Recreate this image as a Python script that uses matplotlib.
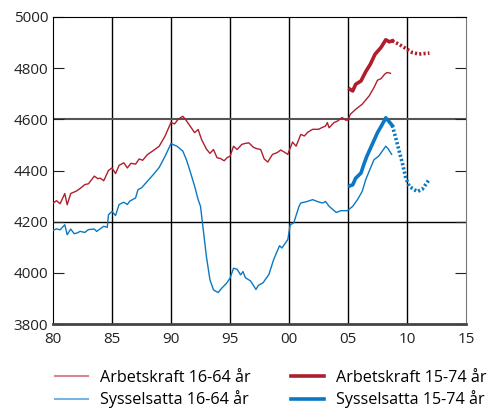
import matplotlib
matplotlib.use("Agg")
import matplotlib.pyplot as plt
from matplotlib.lines import Line2D

plt.rcParams['font.family'] = ['Open Sans', 'DejaVu Sans']

# Arbetskraft 16-64 år
ak_x = [1980.0, 1980.3, 1980.6, 1981.0, 1981.2, 1981.5, 1982.0, 1982.3, 1982.7, 1983.0,
        1983.5, 1983.8, 1984.0, 1984.3, 1984.7, 1985.0, 1985.3, 1985.6, 1986.0, 1986.3,
        1986.6, 1987.0, 1987.3, 1987.6, 1988.0, 1988.5, 1989.0, 1989.5, 1990.0, 1990.3,
        1990.6, 1991.0, 1991.3, 1991.6, 1992.0, 1992.3, 1992.6, 1993.0, 1993.3, 1993.6,
        1993.9, 1994.2, 1994.5, 1994.8, 1995.0, 1995.3, 1995.6, 1996.0, 1996.3, 1996.6,
        1997.0, 1997.3, 1997.6, 1997.9, 1998.2, 1998.6, 1999.0, 1999.3, 1999.6, 1999.9,
        2000.0, 2000.3, 2000.6, 2001.0, 2001.3, 2001.6, 2002.0, 2002.5, 2002.8, 2003.1,
        2003.25, 2003.4, 2003.8, 2004.1, 2004.5, 2004.8, 2005.0, 2005.2, 2005.65, 2006.2,
        2006.8, 2007.2, 2007.5, 2007.8, 2008.1, 2008.3, 2008.6]
ak_y = [4272, 4282, 4270, 4310, 4266, 4310, 4320, 4330, 4345, 4348,
        4378, 4368, 4370, 4360, 4400, 4410, 4388, 4420, 4430, 4410,
        4428, 4425, 4445, 4440, 4462, 4478, 4495, 4535, 4588, 4582,
        4600, 4612, 4595, 4575, 4548, 4560, 4520, 4484, 4467, 4482,
        4450, 4447, 4438, 4452, 4455, 4495, 4482, 4502, 4506, 4508,
        4490, 4485, 4482, 4445, 4433, 4463, 4470, 4480, 4472, 4463,
        4476, 4511, 4495, 4541, 4535, 4550, 4561, 4561, 4568, 4574,
        4587, 4567, 4587, 4593, 4607, 4597, 4597, 4620, 4639, 4659,
        4692, 4724, 4753, 4759, 4776, 4783, 4780]

# Sysselsatta 16-64 år
ss_x = [1980.0, 1980.3, 1980.6, 1981.0, 1981.2, 1981.5, 1981.8, 1982.0, 1982.3, 1982.7,
        1983.0, 1983.5, 1983.7, 1984.0, 1984.3, 1984.6, 1984.7, 1985.0, 1985.3, 1985.6,
        1986.0, 1986.3, 1986.5, 1987.0, 1987.2, 1987.5, 1988.0, 1988.5, 1989.0, 1989.5,
        1990.0, 1990.5, 1991.0, 1991.3, 1991.6, 1992.0, 1992.3, 1992.5, 1992.7, 1993.0,
        1993.3, 1993.6, 1994.0, 1994.3, 1994.7, 1995.0, 1995.3, 1995.6, 1995.9, 1996.1,
        1996.3, 1996.75, 1997.2, 1997.4, 1997.8, 1998.3, 1998.7, 1999.2, 1999.4, 1999.9,
        2000.1, 2000.4, 2000.85, 2001.0, 2001.55, 2002.0, 2002.4, 2002.8, 2002.95, 2003.1,
        2003.4, 2004.0, 2004.4, 2004.95, 2005.4, 2005.8, 2006.2, 2006.5, 2006.9, 2007.2,
        2007.6, 2008.2, 2008.4, 2008.7]
ss_y = [4166, 4172, 4168, 4188, 4149, 4171, 4153, 4155, 4162, 4158,
        4169, 4171, 4162, 4172, 4182, 4178, 4227, 4240, 4224, 4267,
        4276, 4267, 4280, 4293, 4325, 4332, 4358, 4384, 4412, 4456,
        4505, 4495, 4476, 4443, 4400, 4339, 4286, 4260, 4182, 4064,
        3973, 3933, 3923, 3940, 3959, 3979, 4018, 4014, 3992, 4005,
        3981, 3968, 3935, 3951, 3961, 3994, 4052, 4106, 4097, 4130,
        4188, 4195, 4260, 4273, 4279, 4286, 4279, 4273, 4275, 4279,
        4260, 4236, 4243, 4243, 4260, 4286, 4318, 4364, 4409, 4442,
        4456, 4495, 4485, 4463]

# Arbetskraft 15-74 år, utfall och prognos
ak74_x = [2005.15, 2005.4, 2005.65, 2006.1, 2006.5, 2006.9, 2007.3, 2007.8, 2008.2, 2008.5, 2008.75]
ak74_y = [4718, 4711, 4737, 4750, 4786, 4816, 4855, 4881, 4911, 4903, 4907]
ak74_px = [2008.75, 2009.3, 2010.0, 2010.45, 2011.0, 2011.9]
ak74_py = [4907, 4894, 4874, 4861, 4855, 4859]

# Sysselsatta 15-74 år, utfall och prognos
ss74_x = [2005.15, 2005.4, 2005.65, 2006.1, 2006.35, 2006.6, 2007.05, 2007.5, 2007.9, 2008.2, 2008.5, 2008.75]
ss74_y = [4340, 4344, 4370, 4390, 4425, 4456, 4502, 4548, 4580, 4606, 4590, 4576]
ss74_px = [2008.75, 2009.0, 2009.3, 2009.6, 2009.9, 2010.2, 2010.6, 2010.9, 2011.3, 2011.9]
ss74_py = [4576, 4535, 4482, 4430, 4370, 4338, 4325, 4318, 4327, 4366]

xticks = [1980, 1985, 1990, 1995, 2000, 2005, 2010, 2015]
xlabels = ['80', '85', '90', '95', '00', '05', '10', '15']
yticks = [3800, 4000, 4200, 4400, 4600, 4800, 5000]

red = '#b01e2d'
blue = '#0a78c4'

fig = plt.figure(figsize=(4.9, 4.12), dpi=100)
ax = fig.add_axes([53/490, 1-324/412, 413/490, 307/412])

for x in [1985, 1990, 1995, 2000, 2005, 2010]:
    ax.axvline(x, color='black', lw=1, zorder=1)
ax.axhline(4200, color='black', lw=1, zorder=1)
ax.axhline(4600, color='#555555', lw=1.5, zorder=1)

ax.plot(ak_x, ak_y, color=red, lw=1, zorder=3)
ax.plot(ss_x, ss_y, color=blue, lw=1, zorder=3)
ax.plot(ak74_x, ak74_y, color=red, lw=2.6, zorder=4)
ax.plot(ak74_px, ak74_py, color=red, lw=2.6, ls=(0, (0.6, 0.6)), zorder=4)
ax.plot(ss74_x, ss74_y, color=blue, lw=2.6, zorder=4)
ax.plot(ss74_px, ss74_py, color=blue, lw=2.6, ls=(0, (0.6, 0.6)), zorder=4)

ax.set_xlim(1980, 2015)
ax.set_ylim(3800, 5000)
ax.set_xticks(xticks)
ax.set_xticklabels(xlabels)
ax.set_yticks(yticks)
ax.tick_params(axis='y', direction='in', length=8, left=True, right=True, labelsize=11, colors='#222222')
ax.tick_params(axis='x', length=0, labelsize=11, pad=6, colors='#222222')
for s in ['top', 'left']:
    ax.spines[s].set_color('black')
ax.spines['right'].set_color('#777777')
ax.spines['bottom'].set_color('#444444')
ax.spines['bottom'].set_linewidth(2)

handles = [Line2D([], [], color='#d8868f', lw=1.5),
           Line2D([], [], color='#78b4e2', lw=1.5),
           Line2D([], [], color=red, lw=2.6),
           Line2D([], [], color=blue, lw=2.6)]
labels = ['Arbetskraft 16-64 år', 'Sysselsatta 16-64 år',
          'Arbetskraft 15-74 år', 'Sysselsatta 15-74 år']
fig.legend(handles, labels, ncol=2, frameon=False, fontsize=11.6,
           loc='center left', bbox_to_anchor=(40/490, 1-389/412),
           handlelength=2.1, columnspacing=2.5, labelspacing=0.3, handletextpad=0.7)

fig.savefig('out.png', dpi=100)
